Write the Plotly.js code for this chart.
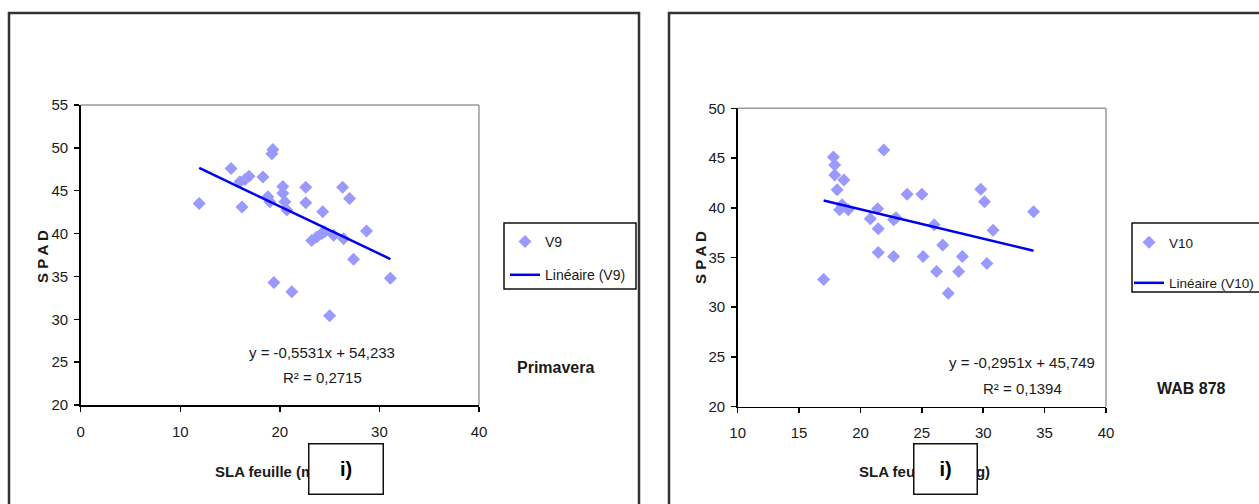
<!DOCTYPE html>
<html>
<head>
<meta charset="utf-8">
<script src="https://cdn.plot.ly/plotly-3.0.1.min.js"></script>
<style>
  html, body { margin: 0; padding: 0; background: #ffffff; overflow: hidden; width: 1259px; height: 504px; }
  #chart { width: 1259px; height: 504px; overflow: hidden; }
</style>
</head>
<body>
<div id="chart"></div>
<script>
// ---- Data ----
const v9Name = "V9";
const v9X = [11.9, 15.1, 16.0, 16.5, 16.9, 16.2, 18.3, 18.8, 19.0, 19.3, 19.2, 19.4, 20.3, 20.3, 20.5, 20.7,
             21.2, 22.6, 22.6, 23.2, 23.7, 24.2, 24.5, 24.3, 25.0, 25.4, 26.3, 26.4, 27.0, 27.4, 28.7, 31.1];
const v9Y = [43.5, 47.6, 46.05, 46.3, 46.7, 43.1, 46.6, 44.3, 43.7, 49.8, 49.3, 34.3, 45.5, 44.7, 43.7, 42.75,
             33.2, 45.4, 43.6, 39.2, 39.6, 40.0, 40.2, 42.55, 30.4, 39.8, 45.4, 39.4, 44.1, 37.0, 40.3, 34.8];
const v9Slope = -0.5531;
const v9Intercept = 54.233;
const v9TrendX = [11.9, 31.1];
const v9EqText = ["y = -0,5531x + 54,233", "R² = 0,2715"];

const v10Name = "V10";
const v10X = [17.0, 17.8, 17.9, 17.9, 18.1, 18.65, 18.3, 18.5, 19.0, 20.8, 21.4, 21.45, 21.45, 21.9, 22.7, 22.9,
              22.7, 23.8, 25.0, 25.1, 26.0, 26.7, 26.2, 27.15, 28.0, 28.3, 29.8, 30.1, 30.3, 30.8, 34.1];
const v10Y = [32.8, 45.1, 44.3, 43.3, 41.8, 42.8, 39.8, 40.3, 39.8, 38.9, 39.9, 37.9, 35.5, 45.8, 38.8, 39.0,
              35.1, 41.35, 41.35, 35.1, 38.3, 36.25, 33.6, 31.4, 33.6, 35.1, 41.85, 40.6, 34.4, 37.75, 39.6];
const v10Slope = -0.2951;
const v10Intercept = 45.749;
const v10TrendX = [17.0, 34.1];
const v10EqText = ["y = -0,2951x + 45,749", "R² = 0,1394"];

const xTitle = "SLA feuille (m²/kg)";
const yTitle = "S P A D";
const panelLabels = ["Primavera", "WAB 878"];
const boxLabel = "i)";

// ---- Helpers (pixel -> paper) ----
const W = 1259, H = 504;
const px = v => v / W;
const py = v => 1 - v / H;

const FONT = "Liberation Sans, Arial, sans-serif";
const markerColor = "#9999ff";
const lineColor = "#0000ee";
const textColor = "#1a1a1a";

const trendY = (xs, m, b) => xs.map(x => m * x + b);

const traces = [
  { x: v9X, y: v9Y, type: "scatter", mode: "markers", name: v9Name, xaxis: "x", yaxis: "y",
    marker: { symbol: "diamond", size: 10, color: markerColor }, legend: "legend", legendgroup: "a" },
  { x: v9TrendX, y: trendY(v9TrendX, v9Slope, v9Intercept), type: "scatter", mode: "lines",
    name: "Linéaire (" + v9Name + ")", xaxis: "x", yaxis: "y",
    line: { color: lineColor, width: 2.5 }, legend: "legend", legendgroup: "b" },
  { x: v10X, y: v10Y, type: "scatter", mode: "markers", name: v10Name, xaxis: "x2", yaxis: "y2",
    marker: { symbol: "diamond", size: 10, color: markerColor }, legend: "legend2", legendgroup: "c" },
  { x: v10TrendX, y: trendY(v10TrendX, v10Slope, v10Intercept), type: "scatter", mode: "lines",
    name: "Linéaire (" + v10Name + ")", xaxis: "x2", yaxis: "y2",
    line: { color: lineColor, width: 2.5 }, legend: "legend2", legendgroup: "d" }
];

const axisCommon = {
  showgrid: false, zeroline: false, showline: true, linecolor: "#000", linewidth: 1.5,
  ticks: "outside", ticklen: 5, tickcolor: "#000", tickwidth: 1.5,
  tickfont: { family: FONT, size: 15, color: textColor }, fixedrange: true, automargin: false
};

const layout = {
  width: W, height: H, autosize: false,
  margin: { l: 0, r: 0, t: 0, b: 0, autoexpand: false },
  paper_bgcolor: "#ffffff", plot_bgcolor: "rgba(0,0,0,0)",
  showlegend: true,
  xaxis: Object.assign({}, axisCommon, { domain: [px(80.7), px(479)], range: [0, 40], dtick: 10, tick0: 0,
    anchor: "y", ticklabelstandoff: 7 }),
  yaxis: Object.assign({}, axisCommon, { domain: [py(405), py(105)], range: [20, 55], dtick: 5, tick0: 20,
    anchor: "x", ticklabelstandoff: 3 }),
  xaxis2: Object.assign({}, axisCommon, { domain: [px(737.7), px(1106)], range: [10, 40], dtick: 5, tick0: 10,
    anchor: "y2", ticklabelstandoff: 7 }),
  yaxis2: Object.assign({}, axisCommon, { domain: [py(406.7), py(108.3)], range: [20, 50], dtick: 5, tick0: 20,
    anchor: "x2", ticklabelstandoff: 3 }),
  legend: { xref: "container", yref: "container", x: px(505), y: py(226), xanchor: "left", yanchor: "top",
    bgcolor: "rgba(0,0,0,0)", borderwidth: 0,
    font: { family: FONT, size: 14, color: textColor }, traceorder: "grouped", tracegroupgap: 12, itemwidth: 30 },
  legend2: { xref: "container", yref: "container", x: px(1129), y: py(227), xanchor: "left", yanchor: "top",
    bgcolor: "rgba(0,0,0,0)", borderwidth: 0,
    font: { family: FONT, size: 13.5, color: textColor }, traceorder: "grouped", tracegroupgap: 20, itemwidth: 30 },
  shapes: [
    // outer frames
    { type: "rect", xref: "paper", yref: "paper", x0: px(9), x1: px(639), y0: py(13), y1: py(520),
      line: { color: "#333", width: 2.5 } },
    { type: "rect", xref: "paper", yref: "paper", x0: px(669), x1: px(1280), y0: py(13), y1: py(520),
      line: { color: "#333", width: 2.5 } },
    // plot-area grey borders (top & right)
    { type: "line", xref: "paper", yref: "paper", x0: px(80.7), x1: px(479), y0: py(105), y1: py(105),
      line: { color: "#9a9a9a", width: 1.5 } },
    { type: "line", xref: "paper", yref: "paper", x0: px(479), x1: px(479), y0: py(105), y1: py(405),
      line: { color: "#9a9a9a", width: 1.5 } },
    { type: "line", xref: "paper", yref: "paper", x0: px(737.7), x1: px(1106), y0: py(108.3), y1: py(108.3),
      line: { color: "#9a9a9a", width: 1.5 } },
    { type: "line", xref: "paper", yref: "paper", x0: px(1106), x1: px(1106), y0: py(108.3), y1: py(406.7),
      line: { color: "#9a9a9a", width: 1.5 } },
    // legend boxes
    { type: "rect", xref: "paper", yref: "paper", x0: px(504), x1: px(636), y0: py(223), y1: py(289),
      line: { color: "#111", width: 1.5 } },
    { type: "rect", xref: "paper", yref: "paper", x0: px(1132), x1: px(1280), y0: py(223), y1: py(292),
      line: { color: "#111", width: 1.5 } }
  ],
  annotations: [
    // axis titles
    { text: "<b>" + xTitle + "</b>", xref: "paper", yref: "paper", x: px(280), y: py(471), showarrow: false,
      xanchor: "center", yanchor: "middle", font: { family: FONT, size: 15, color: textColor } },
    { text: "<b>" + xTitle + "</b>", xref: "paper", yref: "paper", x: px(924), y: py(471), showarrow: false,
      xanchor: "center", yanchor: "middle", font: { family: FONT, size: 15, color: textColor } },
    { text: "<b>" + yTitle + "</b>", xref: "paper", yref: "paper", x: px(42), y: py(256), showarrow: false,
      textangle: -90, xanchor: "center", yanchor: "middle", font: { family: FONT, size: 15, color: textColor } },
    { text: "<b>" + yTitle + "</b>", xref: "paper", yref: "paper", x: px(700), y: py(258), showarrow: false,
      textangle: -90, xanchor: "center", yanchor: "middle", font: { family: FONT, size: 15, color: textColor } },
    // equations
    { text: v9EqText[0], xref: "paper", yref: "paper", x: px(322), y: py(352), showarrow: false,
      xanchor: "center", yanchor: "middle", font: { family: FONT, size: 15, color: textColor } },
    { text: v9EqText[1], xref: "paper", yref: "paper", x: px(322), y: py(377), showarrow: false,
      xanchor: "center", yanchor: "middle", font: { family: FONT, size: 15, color: textColor } },
    { text: v10EqText[0], xref: "paper", yref: "paper", x: px(1022), y: py(362), showarrow: false,
      xanchor: "center", yanchor: "middle", font: { family: FONT, size: 15, color: textColor } },
    { text: v10EqText[1], xref: "paper", yref: "paper", x: px(1022), y: py(388), showarrow: false,
      xanchor: "center", yanchor: "middle", font: { family: FONT, size: 15, color: textColor } },
    // panel labels
    { text: "<b>" + panelLabels[0] + "</b>", xref: "paper", yref: "paper", x: px(515), y: py(367), showarrow: false,
      xanchor: "left", yanchor: "middle", font: { family: FONT, size: 16, color: textColor } },
    { text: "<b>" + panelLabels[1] + "</b>", xref: "paper", yref: "paper", x: px(1155), y: py(388), showarrow: false,
      xanchor: "left", yanchor: "middle", font: { family: FONT, size: 16, color: textColor } },
    // "i)" boxes
    { text: "<b>" + boxLabel + "</b>", xref: "paper", yref: "paper", x: px(345.5), y: py(469), showarrow: false,
      xanchor: "center", yanchor: "middle", width: 73, height: 49, bgcolor: "#ffffff", bordercolor: "#111",
      borderwidth: 1.5, borderpad: 0, font: { family: FONT, size: 20, color: "#000" } },
    { text: "<b>" + boxLabel + "</b>", xref: "paper", yref: "paper", x: px(945.7), y: py(469), showarrow: false,
      xanchor: "center", yanchor: "middle", width: 62, height: 49, bgcolor: "#ffffff", bordercolor: "#111",
      borderwidth: 1.5, borderpad: 0, font: { family: FONT, size: 20, color: "#000" } }
  ]
};

Plotly.newPlot("chart", traces, layout, { displayModeBar: false, staticPlot: true });
</script>
</body>
</html>
